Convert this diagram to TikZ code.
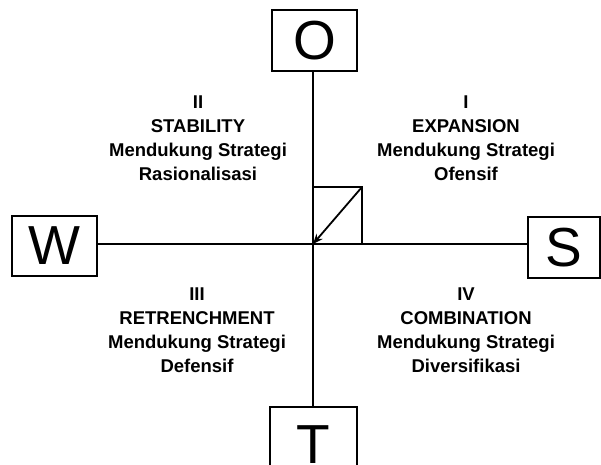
\documentclass[tikz,border=0pt]{standalone}
\usepackage{fontspec}
\setmainfont{Liberation Sans}
\usetikzlibrary{arrows.meta}
\begin{document}
\begin{tikzpicture}[x=1pt,y=-1pt,
  letterbox/.style={draw,line width=1.8pt,inner sep=0pt,font=\fontsize{55}{55}\selectfont},
  quadtext/.style={align=center,font=\fontsize{18.5}{24}\selectfont\bfseries,inner sep=0pt},
  axis/.style={line width=1.8pt}]
\useasboundingbox (0,0) rectangle (601,464);
% SWOT boxes
\node[letterbox,minimum width=85pt,minimum height=61pt] (O) at (314.5,40.5) {O};
\node[letterbox,minimum width=85pt,minimum height=60pt] (W) at (54.5,246) {W};
\node[letterbox,minimum width=72pt,minimum height=61pt] (S) at (564,247.5) {S};
\node[letterbox,minimum width=87pt,minimum height=62pt] (T) at (313.5,438) {\raisebox{-7pt}[\height][0pt]{T}};
% axes
\coordinate (C) at (313,244);
\draw[axis] (O.south -| C) -- (T.north -| C);
\draw[axis] (W.east |- C) -- (S.west |- C);
% small square with diagonal arrow
\coordinate (Q) at (362,187);
\draw[axis] (C |- Q) -- (Q) -- (Q |- C);
\draw[axis,-{Stealth[length=10pt,width=8pt]}] (Q) -- (C);
% quadrant labels
\node[quadtext] (q1) at (466,138.5) {I\\EXPANSION\\Mendukung Strategi\\Ofensif};
\node[quadtext] (q2) at (198,138.5) {II\\STABILITY\\Mendukung Strategi\\Rasionalisasi};
\node[quadtext] (q3) at (197,330) {III\\RETRENCHMENT\\Mendukung Strategi\\Defensif};
\node[quadtext] (q4) at (466,330) {IV\\COMBINATION\\Mendukung Strategi\\Diversifikasi};
\end{tikzpicture}
\end{document}
